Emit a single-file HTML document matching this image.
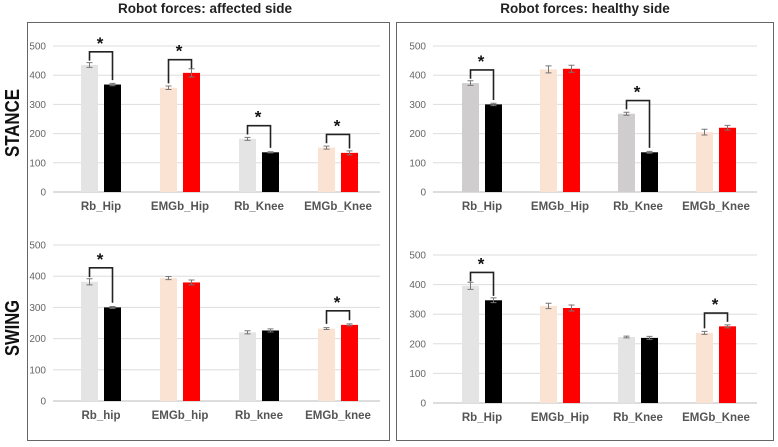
<!DOCTYPE html>
<html><head><meta charset="utf-8"><style>
body{margin:0;background:#fff;}
svg{display:block;font-family:"Liberation Sans",sans-serif;}
</style></head><body>
<svg id="c" width="778" height="447"></svg>
<script>
const categoriesTop = ["Rb_Hip","EMGb_Hip","Rb_Knee","EMGb_Knee"];
const categoriesBL = ["Rb_hip","EMGb_hip","Rb_knee","EMGb_knee"];
const categoriesBR = ["Rb_Hip","EMGb_Hip","Rb_Knee","EMGb_Knee"];
const ticks = [0,100,200,300,400,500];
const tlA = [435,357,182,152], tlB = [368,408,136,134];
const tlErrA = [8,6,5,5], tlErrB = [4,14,2,7];
const trA = [373,420,268,205], trB = [300,422,136,220];
const trErrA = [8,12,5,10], trErrB = [4,12,3,8];
const blA = [382,394,220,232], blB = [300,380,226,244];
const blErrA = [10,5,5,3], blErrB = [3,8,5,3];
const brA = [396,328,223,237], brB = [347,321,220,259];
const brErrA = [12,9,3,5], brErrB = [8,10,5,5];
const sigTL=[true,true,true,true], sigTR=[true,false,true,false], sigBL=[true,false,false,true], sigBR=[true,false,false,true];

const NS="http://www.w3.org/2000/svg", svg=document.getElementById('c');
function mk(t,a,p){const e=document.createElementNS(NS,t);for(const k in a)e.setAttribute(k,a[k]);(p||svg).appendChild(e);return e;}

let f=mk('rect',{x:27.5,y:22.5,width:362,height:418,fill:'none',stroke:'#666','stroke-width':1});

f=mk('rect',{x:396.5,y:22.5,width:377,height:418,fill:'none',stroke:'#666','stroke-width':1});

let t=mk('text',{x:205,y:13,'text-anchor':'middle','font-size':13.5,'font-weight':'bold',fill:'#222'});t.textContent='Robot forces: affected side';

t=mk('text',{x:585,y:13,'text-anchor':'middle','font-size':13.5,'font-weight':'bold',fill:'#222'});t.textContent='Robot forces: healthy side';

t=mk('text',{x:0,y:0,'text-anchor':'middle','font-size':20,'font-weight':'bold',fill:'#111',textLength:68,lengthAdjust:'spacingAndGlyphs',transform:'translate(19,123) rotate(-90)'});t.textContent='STANCE';

t=mk('text',{x:0,y:0,'text-anchor':'middle','font-size':20,'font-weight':'bold',fill:'#111',textLength:56,lengthAdjust:'spacingAndGlyphs',transform:'translate(19,328) rotate(-90)'});t.textContent='SWING';


function panel(name,cats,A,B,eA,eB,sig,g){
  const y=v=>g.y0-(g.y0-g.y500)*v/500;
  const grp=mk('g',{});
  
  ticks.forEach(v=>{
    const l=mk('line',{x1:g.x0,x2:g.x1,y1:y(v),y2:y(v),stroke:v==0?'#bbb':'#ddd','stroke-width':1},grp);
    
    const tx=mk('text',{x:g.x0-7,y:y(v)+3.5,'text-anchor':'end','font-size':10,fill:'#666'},grp);
    tx.textContent=v;
    
  });
  cats.forEach((c,i)=>{
    const cx=g.c0+i*g.step, isR=i%2==1;
    const ca=isR?'#fbe3d4':g.gray, cb=isR?'#ff0000':'#000';
    const xa=cx-20, xb=cx+3, w=17;
    const ra=mk('rect',{x:xa,y:y(A[i]),width:w,height:y(0)-y(A[i]),fill:ca},grp);
    
    const rb=mk('rect',{x:xb,y:y(B[i]),width:w,height:y(0)-y(B[i]),fill:cb},grp);
    
    [[xa+w/2,A[i],eA[i]],[xb+w/2,B[i],eB[i]]].forEach(([ex,v,e])=>{
      const p=mk('path',{d:`M${ex},${y(v+e)}V${y(v-e)}M${ex-3},${y(v+e)}h6M${ex-3},${y(v-e)}h6`,stroke:'#777','stroke-width':1,fill:'none'},grp);
      
    });
    const lb=mk('text',{x:cx,y:y(0)+18,'text-anchor':'middle','font-size':11.5,'font-weight':'bold',fill:'#555'},grp);
    lb.textContent=c;
    
    if(sig[i]){
      const m=Math.max(A[i],B[i]), top=y(m+45);
      const p=mk('path',{d:`M${xa+w/2},${y(A[i]+15)}V${top}H${xb+w/2}V${y(B[i]+15)}`,stroke:'#222','stroke-width':1.6,fill:'none'},grp);
      
      const s=mk('text',{x:cx-1,y:top-3,'text-anchor':'middle','font-size':17,'font-weight':'bold',fill:'#111'},grp);
      s.textContent='*';
      
    }
  });
}
panel('chart-stance-affected',categoriesTop,tlA,tlB,tlErrA,tlErrB,sigTL,{x0:53,x1:380,c0:101,step:79,y0:192,y500:46,gray:'#e4e4e4'});
panel('chart-stance-healthy',categoriesTop,trA,trB,trErrA,trErrB,sigTR,{x0:433,x1:757,c0:482,step:78,y0:192,y500:46,gray:'#cfcdcd'});
panel('chart-swing-affected',categoriesBL,blA,blB,blErrA,blErrB,sigBL,{x0:53,x1:380,c0:101,step:79,y0:401,y500:245,gray:'#e4e4e4'});
panel('chart-swing-healthy',categoriesBR,brA,brB,brErrA,brErrB,sigBR,{x0:433,x1:757,c0:482,step:78,y0:403,y500:255,gray:'#e4e4e4'});
</script>
</body></html>
